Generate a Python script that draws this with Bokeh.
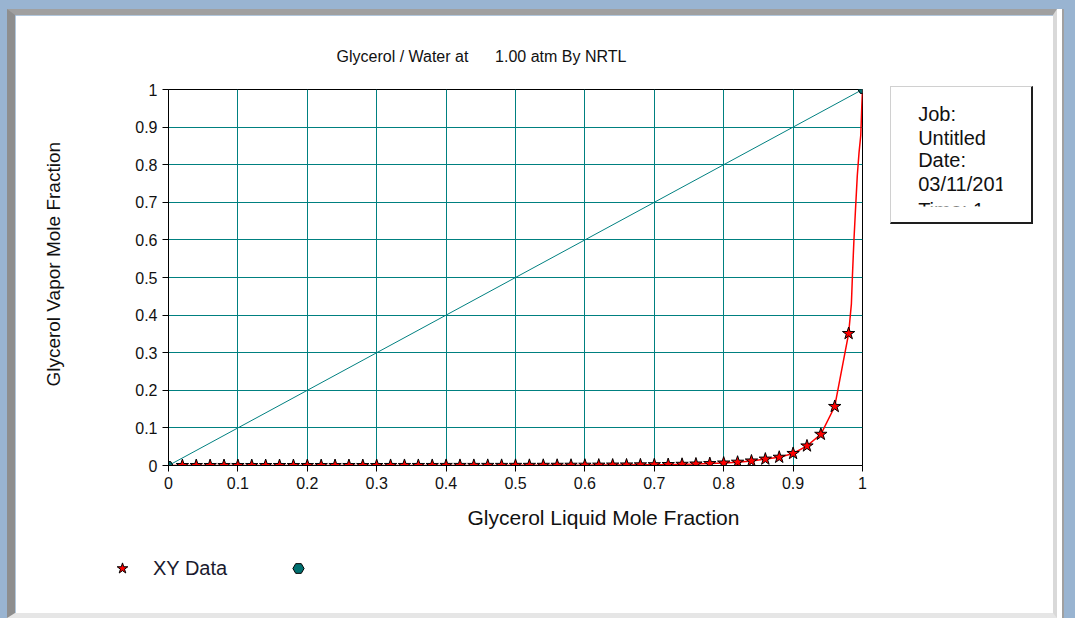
from bokeh.plotting import figure
from bokeh.layouts import column
from bokeh.models import (Range1d, FixedTicker, Title, Legend, LegendItem, Label)
from bokeh.embed import file_html
from bokeh.resources import INLINE

# ---------------- data ----------------
title_text = "Glycerol / Water at\u00a0\u00a0\u00a0\u00a0\u00a0 1.00 atm By NRTL"
x_label = "Glycerol Liquid Mole Fraction"
y_label = "Glycerol Vapor Mole Fraction"

tick_values = [0, 0.1, 0.2, 0.3, 0.4, 0.5, 0.6, 0.7, 0.8, 0.9, 1]
tick_labels = ["0", "0.1", "0.2", "0.3", "0.4", "0.5", "0.6", "0.7", "0.8", "0.9", "1"]

# XY data points (stars)
x_data = [0.02, 0.04, 0.06, 0.08, 0.10, 0.12, 0.14, 0.16, 0.18, 0.20,
          0.22, 0.24, 0.26, 0.28, 0.30, 0.32, 0.34, 0.36, 0.38, 0.40,
          0.42, 0.44, 0.46, 0.48, 0.50, 0.52, 0.54, 0.56, 0.58, 0.60,
          0.62, 0.64, 0.66, 0.68, 0.70, 0.72, 0.74, 0.76, 0.78, 0.80,
          0.82, 0.84, 0.86, 0.88, 0.90, 0.92, 0.94, 0.96, 0.98]
y_data = [0.0, 0.0, 0.0, 0.0, 0.0, 0.0, 0.0, 0.0, 0.0, 0.0,
          0.0, 0.0, 0.0, 0.0, 0.0, 0.0001, 0.0001, 0.0001, 0.0001, 0.0002,
          0.0002, 0.0002, 0.0003, 0.0003, 0.0004, 0.0004, 0.0005, 0.0006, 0.0007, 0.0008,
          0.0010, 0.0012, 0.0014, 0.0017, 0.0021, 0.0026, 0.0032, 0.0040, 0.0051, 0.0066,
          0.0088, 0.012, 0.017, 0.022, 0.032, 0.052, 0.083, 0.157, 0.351]

# NRTL curve (red line)
x_curve = [0.0] + x_data + [0.984, 0.9855, 0.9875, 0.990, 0.9925, 0.995, 0.9975, 0.999, 1.0]
y_curve = [0.0] + y_data + [0.43, 0.505, 0.593, 0.684, 0.771, 0.832, 0.878, 0.957, 1.0]

# diagonal y = x
x_diag = [0.0, 1.0]
y_diag = [0.0, 1.0]

legend_label = "XY Data"
info_lines = ["Job:", "Untitled", "Date:", "03/11/201", "Time: 1"]

FONT = "Liberation Sans"
TEAL = "#008080"
INK = "#111111"

# ---------------- main figure ----------------
p = figure(width=1038, height=598, x_range=Range1d(0, 1), y_range=Range1d(0, 1),
           output_backend="svg", toolbar_location=None,
           min_border_left=153, min_border_right=203,
           min_border_top=74, min_border_bottom=159)
p.background_fill_color = "white"
p.border_fill_color = "white"
p.outline_line_color = "black"
p.outline_line_width = 1

for ax in (p.xaxis[0], p.yaxis[0]):
    ax.ticker = FixedTicker(ticks=tick_values)
    ax.major_label_overrides = dict(zip(tick_values, tick_labels))
    ax.axis_line_color = "black"
    ax.major_tick_line_color = "black"
    ax.major_tick_out = 6
    ax.major_tick_in = 0
    ax.minor_tick_line_color = None
    ax.major_label_text_font = FONT
    ax.major_label_text_font_size = "16px"
    ax.major_label_text_color = INK
    ax.major_label_standoff = 5

p.yaxis[0].axis_label = "\u00a0" * 5 + y_label
p.yaxis[0].axis_label_text_font = FONT
p.yaxis[0].axis_label_text_font_size = "19px"
p.yaxis[0].axis_label_text_font_style = "normal"
p.yaxis[0].axis_label_text_color = INK
p.yaxis[0].axis_label_standoff = 68

p.xgrid.grid_line_color = TEAL
p.ygrid.grid_line_color = TEAL

p.line(x_diag, y_diag, line_color=TEAL, line_width=1)
p.line(x_curve, y_curve, line_color="#ff0000", line_width=1.5)
p.scatter(x_data, y_data, marker="star", size=13,
          fill_color="#ff0000", line_color="black", line_width=1)
p.scatter(x_diag, y_diag, marker="hex", size=9,
          fill_color="#007070", line_color="black", line_width=1)

p.title.text = title_text
p.title.align = "left"
p.title.offset = 168
p.title.standoff = 50
p.title.text_font = FONT
p.title.text_font_size = "16px"
p.title.text_font_style = "normal"
p.title.text_color = INK

p.add_layout(Title(text=x_label, align="left", offset=299, standoff=25,
                   text_font=FONT, text_font_size="21px",
                   text_font_style="normal", text_color=INK), "below")

p.styles = {"box-sizing": "content-box",
            "border-style": "solid", "border-width": "6px 4px 5px 8px",
            "border-color": "#a0a0a0 #d9d9d9 #e6e6e6 #8e8e8e",
            "box-shadow": "5px 0 0 0 #ffffff, 7px 0 0 0 #a0a0a0"}

layout = column(p, styles={"background-color": "#99b4d1",
                           "padding": "9px 18px 0px 7px"})

# ---------------- legend strip (below the plot, left) ----------------
lf = figure(width=250, height=40, x_range=Range1d(10, 11), y_range=Range1d(10, 11),
            x_axis_type=None, y_axis_type=None, output_backend="svg",
            toolbar_location=None, min_border=0)
lf.outline_line_color = None
lf.background_fill_alpha = 0
lf.border_fill_alpha = 0
lstars = lf.scatter(x_data, y_data, marker="star", size=13,
                    fill_color="#ff0000", line_color="black", line_width=1)
lends = lf.scatter(x_diag, y_diag, marker="hex", size=9,
                   fill_color="#007070", line_color="black", line_width=1)
lf.add_layout(Legend(items=[LegendItem(label=legend_label, renderers=[lstars]),
                            LegendItem(label=" ", renderers=[lends])],
                     location=(8, 6), orientation="horizontal",
                     glyph_width=28, glyph_height=28, label_standoff=17,
                     spacing=57, padding=0, margin=0,
                     border_line_color=None, background_fill_alpha=0,
                     label_text_font=FONT, label_text_font_size="20px",
                     label_text_color="#1a1a2e"))
lf.styles = {"position": "absolute", "left": "100px", "top": "548px"}

# ---------------- info box (right of the plot) ----------------
bf = figure(width=140, height=135, x_range=Range1d(0, 1), y_range=Range1d(0, 1),
            x_axis_type=None, y_axis_type=None, output_backend="svg",
            toolbar_location=None, min_border_left=0, min_border_top=0,
            min_border_right=32, min_border_bottom=19)
bf.outline_line_color = None
bf.background_fill_color = "white"
bf.border_fill_color = "white"
info_y = [0.776, 0.578, 0.388, 0.190, -0.03]
for txt, yy in zip(info_lines, info_y):
    bf.add_layout(Label(x=0.24, y=yy, text=txt, text_align="left",
                        text_baseline="middle", text_font=FONT,
                        text_font_size="20px", text_color=INK))
bf.styles = {"position": "absolute", "left": "890px", "top": "86px",
             "box-sizing": "content-box", "border-style": "solid",
             "border-width": "1px 2px 2px 1px",
             "border-color": "#d0d0d0 #1e1e1e #1e1e1e #d0d0d0"}

open("out.html", "w").write(file_html([layout, lf, bf], INLINE))
